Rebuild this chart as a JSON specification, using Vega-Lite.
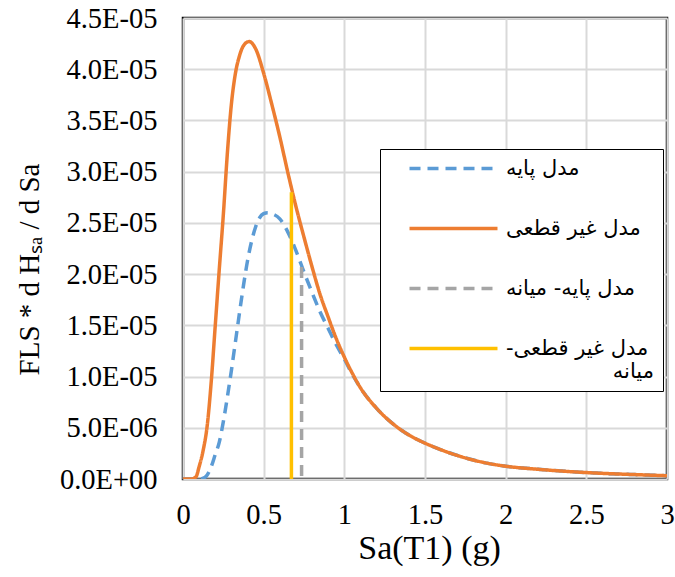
{
  "$schema": "https://vega.github.io/schema/vega-lite/v6.json",
  "width": 484,
  "height": 461,
  "autosize": {"type": "none"},
  "padding": {"left": 183, "top": 18, "right": 8, "bottom": 98},
  "background": "white",
  "config": {
    "view": {"stroke": "#000000", "strokeWidth": 2.5},
    "axis": {
      "labelFont": "Liberation Serif",
      "titleFont": "Liberation Serif",
      "labelColor": "#000000",
      "titleColor": "#000000",
      "grid": true,
      "gridColor": "#D9D9D9",
      "gridWidth": 2,
      "domain": false,
      "ticks": false,
      "tickSize": 0,
      "titleFontWeight": "normal"
    }
  },
  "datasets": {
    "curves": [
      {"x": 0, "y": 0, "series": "مدل پایه"},
      {"x": 0.1, "y": 0, "series": "مدل پایه"},
      {"x": 0.13, "y": 0.0000001, "series": "مدل پایه"},
      {"x": 0.15, "y": 0.0000004, "series": "مدل پایه"},
      {"x": 0.175, "y": 0.0000012, "series": "مدل پایه"},
      {"x": 0.2, "y": 0.0000024, "series": "مدل پایه"},
      {"x": 0.225, "y": 0.0000036, "series": "مدل پایه"},
      {"x": 0.25, "y": 0.0000056, "series": "مدل پایه"},
      {"x": 0.275, "y": 0.000008, "series": "مدل پایه"},
      {"x": 0.3, "y": 0.0000106, "series": "مدل پایه"},
      {"x": 0.325, "y": 0.0000134, "series": "مدل پایه"},
      {"x": 0.35, "y": 0.0000162, "series": "مدل پایه"},
      {"x": 0.375, "y": 0.0000189, "series": "مدل پایه"},
      {"x": 0.4, "y": 0.0000213, "series": "مدل پایه"},
      {"x": 0.425, "y": 0.0000232, "series": "مدل پایه"},
      {"x": 0.45, "y": 0.0000246, "series": "مدل پایه"},
      {"x": 0.475, "y": 0.0000255, "series": "مدل پایه"},
      {"x": 0.5, "y": 0.0000259, "series": "مدل پایه"},
      {"x": 0.525, "y": 0.000026, "series": "مدل پایه"},
      {"x": 0.55, "y": 0.0000259, "series": "مدل پایه"},
      {"x": 0.6, "y": 0.0000254, "series": "مدل پایه"},
      {"x": 0.65, "y": 0.0000241, "series": "مدل پایه"},
      {"x": 0.7, "y": 0.0000223, "series": "مدل پایه"},
      {"x": 0.75, "y": 0.0000202, "series": "مدل پایه"},
      {"x": 0.8, "y": 0.0000182, "series": "مدل پایه"},
      {"x": 0.85, "y": 0.0000163, "series": "مدل پایه"},
      {"x": 0.9, "y": 0.0000147, "series": "مدل پایه"},
      {"x": 0.95, "y": 0.0000131, "series": "مدل پایه"},
      {"x": 1.0, "y": 0.0000117, "series": "مدل پایه"},
      {"x": 1.05, "y": 0.0000102, "series": "مدل پایه"},
      {"x": 1.1, "y": 0.0000089, "series": "مدل پایه"},
      {"x": 1.2, "y": 0.0000069, "series": "مدل پایه"},
      {"x": 1.3, "y": 0.0000054, "series": "مدل پایه"},
      {"x": 1.4, "y": 0.0000043, "series": "مدل پایه"},
      {"x": 1.5, "y": 0.0000035, "series": "مدل پایه"},
      {"x": 1.6, "y": 0.00000285, "series": "مدل پایه"},
      {"x": 1.7, "y": 0.0000023, "series": "مدل پایه"},
      {"x": 1.8, "y": 0.00000185, "series": "مدل پایه"},
      {"x": 1.9, "y": 0.0000015, "series": "مدل پایه"},
      {"x": 2.0, "y": 0.00000125, "series": "مدل پایه"},
      {"x": 2.2, "y": 0.00000095, "series": "مدل پایه"},
      {"x": 2.4, "y": 0.00000072, "series": "مدل پایه"},
      {"x": 2.6, "y": 0.00000055, "series": "مدل پایه"},
      {"x": 2.8, "y": 0.00000043, "series": "مدل پایه"},
      {"x": 3.0, "y": 0.00000032, "series": "مدل پایه"},
      {"x": 0, "y": 0, "series": "مدل غیر قطعی"},
      {"x": 0.05, "y": 0, "series": "مدل غیر قطعی"},
      {"x": 0.08, "y": 0.0000002, "series": "مدل غیر قطعی"},
      {"x": 0.1, "y": 0.0000012, "series": "مدل غیر قطعی"},
      {"x": 0.125, "y": 0.0000028, "series": "مدل غیر قطعی"},
      {"x": 0.15, "y": 0.0000052, "series": "مدل غیر قطعی"},
      {"x": 0.175, "y": 0.0000095, "series": "مدل غیر قطعی"},
      {"x": 0.2, "y": 0.000015, "series": "مدل غیر قطعی"},
      {"x": 0.225, "y": 0.0000205, "series": "مدل غیر قطعی"},
      {"x": 0.25, "y": 0.0000258, "series": "مدل غیر قطعی"},
      {"x": 0.275, "y": 0.0000318, "series": "مدل غیر قطعی"},
      {"x": 0.3, "y": 0.0000366, "series": "مدل غیر قطعی"},
      {"x": 0.325, "y": 0.0000396, "series": "مدل غیر قطعی"},
      {"x": 0.35, "y": 0.0000413, "series": "مدل غیر قطعی"},
      {"x": 0.375, "y": 0.0000423, "series": "مدل غیر قطعی"},
      {"x": 0.41, "y": 0.0000427, "series": "مدل غیر قطعی"},
      {"x": 0.45, "y": 0.000042, "series": "مدل غیر قطعی"},
      {"x": 0.5, "y": 0.0000396, "series": "مدل غیر قطعی"},
      {"x": 0.55, "y": 0.0000366, "series": "مدل غیر قطعی"},
      {"x": 0.6, "y": 0.0000334, "series": "مدل غیر قطعی"},
      {"x": 0.65, "y": 0.0000299, "series": "مدل غیر قطعی"},
      {"x": 0.7, "y": 0.0000266, "series": "مدل غیر قطعی"},
      {"x": 0.75, "y": 0.0000236, "series": "مدل غیر قطعی"},
      {"x": 0.8, "y": 0.0000207, "series": "مدل غیر قطعی"},
      {"x": 0.85, "y": 0.000018, "series": "مدل غیر قطعی"},
      {"x": 0.9, "y": 0.0000158, "series": "مدل غیر قطعی"},
      {"x": 0.95, "y": 0.0000137, "series": "مدل غیر قطعی"},
      {"x": 1.0, "y": 0.0000119, "series": "مدل غیر قطعی"},
      {"x": 1.05, "y": 0.0000103, "series": "مدل غیر قطعی"},
      {"x": 1.1, "y": 0.0000089, "series": "مدل غیر قطعی"},
      {"x": 1.2, "y": 0.0000069, "series": "مدل غیر قطعی"},
      {"x": 1.3, "y": 0.0000054, "series": "مدل غیر قطعی"},
      {"x": 1.4, "y": 0.0000043, "series": "مدل غیر قطعی"},
      {"x": 1.5, "y": 0.0000035, "series": "مدل غیر قطعی"},
      {"x": 1.6, "y": 0.00000285, "series": "مدل غیر قطعی"},
      {"x": 1.7, "y": 0.0000023, "series": "مدل غیر قطعی"},
      {"x": 1.8, "y": 0.00000185, "series": "مدل غیر قطعی"},
      {"x": 1.9, "y": 0.0000015, "series": "مدل غیر قطعی"},
      {"x": 2.0, "y": 0.00000125, "series": "مدل غیر قطعی"},
      {"x": 2.2, "y": 0.00000095, "series": "مدل غیر قطعی"},
      {"x": 2.4, "y": 0.00000072, "series": "مدل غیر قطعی"},
      {"x": 2.6, "y": 0.00000055, "series": "مدل غیر قطعی"},
      {"x": 2.8, "y": 0.00000043, "series": "مدل غیر قطعی"},
      {"x": 3.0, "y": 0.00000032, "series": "مدل غیر قطعی"}
    ],
    "medians": [
      {"x": 0.735, "y": 0.0000207, "series": "مدل پایه- میانه"},
      {"x": 0.672, "y": 0.000028, "series": "مدل غیر قطعی- میانه"}
    ]
  },
  "layer": [
    {
      "data": {"name": "curves"},
      "mark": {"type": "line", "strokeWidth": 3.5, "interpolate": "monotone", "clip": true},
      "encoding": {
        "x": {
          "field": "x", "type": "quantitative",
          "scale": {"domain": [0, 3], "nice": false},
          "axis": {
            "values": [0, 0.5, 1, 1.5, 2, 2.5, 3],
            "format": "~g",
            "labelFontSize": 28.5,
            "labelBaseline": "alphabetic",
            "labelPadding": 44,
            "labelFlush": false,
            "title": "Sa(T1) (g)",
            "titleFontSize": 34,
            "titleX": 246,
            "titleY": 79,
            "titleBaseline": "alphabetic",
            "titleAlign": "center"
          }
        },
        "y": {
          "field": "y", "type": "quantitative",
          "scale": {"domain": [0, 0.000045], "nice": false},
          "axis": {
            "values": [0, 0.000005, 0.00001, 0.000015, 0.00002, 0.000025, 0.00003, 0.000035, 0.00004, 0.000045],
            "labelExpr": "datum.value == 0 ? '0.0E+00' : (datum.value < 0.0000099 ? format(datum.value * 1000000, '.1f') + 'E-06' : format(datum.value * 100000, '.1f') + 'E-05')",
            "labelFontSize": 28.5,
            "labelPadding": 26,
            "labelFlush": false,
            "title": "FLS * d Hₛₐ / d Sa",
            "titleFontSize": 29,
            "titleAngle": -90,
            "titleX": -154,
            "titleY": 251,
            "titleBaseline": "middle",
            "titleAlign": "center"
          }
        },
        "order": {"field": "x", "type": "quantitative"},
        "color": {
          "field": "series", "type": "nominal",
          "scale": {
            "domain": ["مدل پایه", "مدل غیر قطعی", "مدل پایه- میانه", "مدل غیر قطعی- میانه"],
            "range": ["#5B9BD5", "#ED7D31", "#A5A5A5", "#FFC000"]
          },
          "legend": {
            "orient": "none",
            "legendX": 197,
            "legendY": 131,
            "title": null,
            "padding": 9,
            "strokeColor": "#000000",
            "fillColor": "#FFFFFF",
            "symbolType": "M1.667,0H16.333",
            "symbolSize": 144,
            "symbolStrokeWidth": 3.5,
            "labelOffset": 96,
            "rowPadding": 38,
            "labelFont": "DejaVu Sans",
            "labelFontSize": 21,
            "labelColor": "#000000",
            "labelLimit": 300,
            "labelExpr": "datum.label == 'مدل غیر قطعی- میانه' ? ['مدل غیر قطعی-\u200f', '\u200e\u00a0\u00a0\u00a0\u00a0\u00a0\u00a0\u00a0\u00a0\u00a0\u00a0\u00a0\u00a0\u00a0\u00a0\u00a0\u00a0میانه'] : datum.label"
          }
        },
        "strokeDash": {
          "field": "series", "type": "nominal",
          "scale": {
            "domain": ["مدل پایه", "مدل غیر قطعی", "مدل پایه- میانه", "مدل غیر قطعی- میانه"],
            "range": [[11, 7], [1, 0], [11, 7], [1, 0]]
          },
          "legend": {
            "orient": "none",
            "legendX": 197,
            "legendY": 131,
            "title": null,
            "padding": 9,
            "strokeColor": "#000000",
            "fillColor": "#FFFFFF",
            "symbolType": "M1.667,0H16.333",
            "symbolSize": 144,
            "symbolStrokeWidth": 3.5,
            "labelOffset": 96,
            "rowPadding": 38,
            "labelFont": "DejaVu Sans",
            "labelFontSize": 21,
            "labelColor": "#000000",
            "labelLimit": 300,
            "labelExpr": "datum.label == 'مدل غیر قطعی- میانه' ? ['مدل غیر قطعی-\u200f', '\u200e\u00a0\u00a0\u00a0\u00a0\u00a0\u00a0\u00a0\u00a0\u00a0\u00a0\u00a0\u00a0\u00a0\u00a0\u00a0\u00a0میانه'] : datum.label"
          }
        }
      }
    },
    {
      "data": {"name": "medians"},
      "mark": {"type": "rule", "strokeWidth": 3.5},
      "encoding": {
        "x": {"field": "x", "type": "quantitative"},
        "y": {"field": "y", "type": "quantitative"},
        "y2": {"datum": 0},
        "color": {"field": "series", "type": "nominal"},
        "strokeDash": {"field": "series", "type": "nominal"}
      }
    }
  ]
}
